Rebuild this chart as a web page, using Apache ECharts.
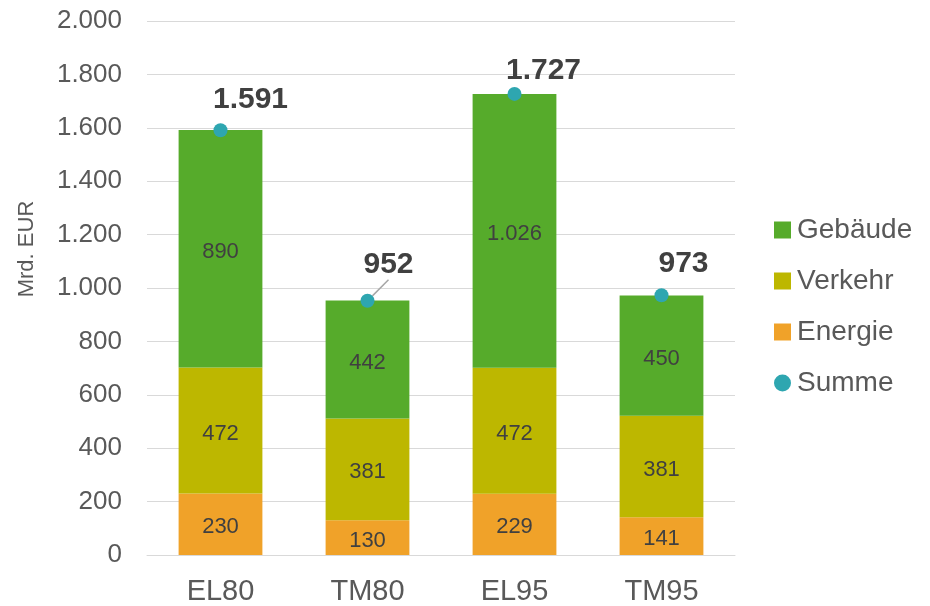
<!DOCTYPE html>
<html><head><meta charset="utf-8">
<script src="https://cdn.jsdelivr.net/npm/echarts@6/dist/echarts.min.js"></script>
<style>html,body{margin:0;padding:0;background:#fff}#c{width:930px;height:606px}</style>
</head><body><div id="c"></div>
<script>
const categories = ['EL80', 'TM80', 'EL95', 'TM95'];
const energie = [230, 130, 229, 141];
const verkehr = [472, 381, 472, 381];
const gebaeude = [890, 442, 1026, 450];
const summe = [1591, 952, 1727, 973];
const sumLabelShift = [[30, -3], [21, -9], [29, 4], [22, -4]];

const fmt = v => String(v).replace(/\B(?=(\d{3})+(?!\d))/g, '.');
const FONT = 'Liberation Sans, Arial, sans-serif';

const segLabel = {show: true, position: 'inside', offset: [0, 3], color: '#404040', fontSize: 22, fontFamily: FONT, formatter: p => fmt(p.value)};

const chart = echarts.init(document.getElementById('c'), null, {renderer: 'canvas'});
chart.setOption({
  animation: false,
  textStyle: {fontFamily: FONT},
  grid: {left: 147, right: 195, top: 21, bottom: 49},
  graphic: [{
    type: 'text', x: 27, y: 249, rotation: Math.PI / 2,
    style: {text: 'Mrd. EUR', fontSize: 22, fill: '#595959', fontFamily: FONT, align: 'center', verticalAlign: 'middle'}
  }],
  legend: {
    orient: 'vertical', left: 769, top: 211, itemGap: 23, itemWidth: 17, itemHeight: 17,
    textStyle: {fontSize: 28, color: '#595959', fontFamily: FONT, padding: [0, 0, 0, 1]},
    data: [
      {name: 'Gebäude', icon: 'rect'},
      {name: 'Verkehr', icon: 'rect'},
      {name: 'Energie', icon: 'rect'},
      {name: 'Summe', icon: 'circle'}
    ]
  },
  xAxis: {
    type: 'category', data: categories,
    axisLine: {lineStyle: {color: '#d9d9d9'}}, axisTick: {show: false},
    axisLabel: {fontSize: 29, color: '#595959', margin: 22, fontFamily: FONT}
  },
  yAxis: {
    type: 'value', min: 0, max: 2000, interval: 200,
    axisLine: {show: false}, axisTick: {show: false},
    splitLine: {lineStyle: {color: '#d9d9d9', width: 1}},
    axisLabel: {fontSize: 26, color: '#595959', margin: 25, padding: [4, 0, 0, 0], fontFamily: FONT, formatter: v => fmt(v)}
  },
  series: [
    {name: 'Energie', type: 'bar', stack: 's', barWidth: '57%', data: energie, itemStyle: {color: '#f0a229'}, label: segLabel},
    {name: 'Verkehr', type: 'bar', stack: 's', data: verkehr, itemStyle: {color: '#bdb700'}, label: segLabel},
    {name: 'Gebäude', type: 'bar', stack: 's', data: gebaeude, itemStyle: {color: '#56ab2b'}, label: segLabel},
    {
      name: 'Summe', type: 'scatter', data: summe.map((v, i) => {
        const item = {value: v};
        if (i === 1) item.labelLine = {show: true, lineStyle: {color: '#a6a6a6', width: 1.5}};
        return item;
      }),
      symbolSize: 14, itemStyle: {color: '#2ea6b0', opacity: 1}, z: 5,
      label: {show: true, position: 'top', distance: 5, fontSize: 30, fontWeight: 'bold', color: '#404040', fontFamily: FONT, formatter: p => fmt(p.value)},
      labelLayout: p => ({dx: sumLabelShift[p.dataIndex][0], dy: sumLabelShift[p.dataIndex][1]}),
      labelLine: {show: false}
    }
  ]
});
</script></body></html>
